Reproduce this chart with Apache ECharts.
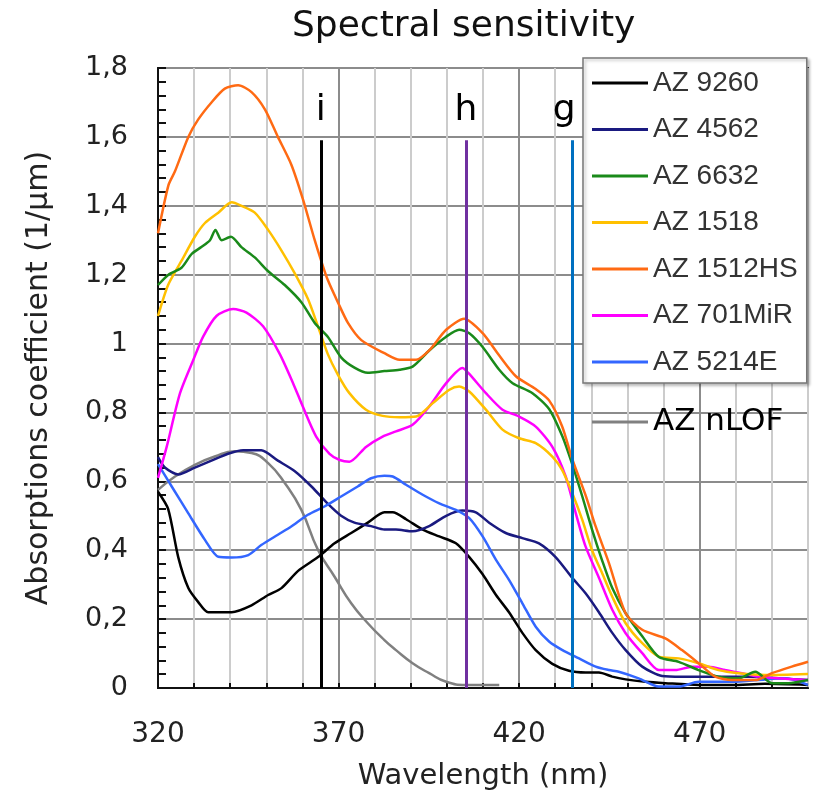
<!DOCTYPE html>
<html lang="en">

<head>
  <meta charset="UTF-8">
  <title>Spectral sensitivity</title>
  <style>
    html, body {
      margin: 0;
      padding: 0;
      background: #fff;
    }

    #main {
      width: 814px;
      height: 793px;
    }
  </style>
</head>

<body>
  <div id="main"></div>

  <script src="https://cdn.jsdelivr.net/npm/echarts@6/dist/echarts.min.js"></script>
  <script type="text/javascript">
    // wavelengths (nm) and absorption coefficients (1/um)
    var wl9260 = [320, 322.8, 325.6, 328.4, 331.1, 333.9, 340.4, 345.9, 350.5, 354.2, 358.8, 364.3, 368.9, 373.5, 378.1, 382.7, 385, 388.7, 393.3, 397.9, 402.5, 406.2, 409.9, 413.6, 417.2, 420.9, 424.6, 429.2, 433.8, 438.4, 442.1, 445.8, 449.5, 455, 460.5, 469.7, 478.9, 488.1, 500];
    var az9260 = [0.57, 0.52, 0.38, 0.29, 0.25, 0.22, 0.22, 0.24, 0.27, 0.29, 0.34, 0.38, 0.42, 0.45, 0.48, 0.51, 0.51, 0.49, 0.46, 0.44, 0.42, 0.38, 0.33, 0.27, 0.22, 0.16, 0.11, 0.07, 0.05, 0.045, 0.045, 0.033, 0.025, 0.018, 0.014, 0.009, 0.009, 0.012, 0.009];

    var wl4562 = [320, 321.9, 325.6, 330.2, 334.8, 339.4, 343.6, 348.6, 353.2, 357.8, 362.5, 367, 370.7, 374.4, 379, 382.7, 385.9, 390.5, 395.1, 399.8, 404.3, 408, 411.7, 416.3, 420.9, 425.5, 430.1, 434.7, 438.4, 442.1, 445.8, 449.5, 454.1, 459.6, 465.1, 474.3, 483.5, 492.7, 500];
    var az4562 = [0.67, 0.64, 0.62, 0.64, 0.66, 0.68, 0.69, 0.69, 0.66, 0.63, 0.585, 0.535, 0.5, 0.48, 0.47, 0.46, 0.46, 0.455, 0.47, 0.5, 0.515, 0.51, 0.48, 0.45, 0.435, 0.42, 0.38, 0.32, 0.275, 0.22, 0.16, 0.11, 0.062, 0.035, 0.033, 0.033, 0.033, 0.028, 0.023];

    var wl6632 = [320, 322.9, 326.5, 329.3, 332, 334.4, 335.9, 337.6, 340.2, 343.1, 346.8, 350.5, 355.1, 359.7, 363.4, 367, 370.7, 374.4, 378.1, 382.7, 386.9, 390.5, 395.1, 399.8, 403.4, 406.2, 409.9, 414.5, 418.2, 423.7, 428.3, 432, 434.7, 437.5, 440.2, 443, 445.8, 449.5, 454.1, 458.7, 464.2, 469.7, 475.2, 480.8, 485.4, 490, 494.6, 500];
    var az6632 = [1.17, 1.2, 1.22, 1.26, 1.28, 1.3, 1.33, 1.3, 1.31, 1.28, 1.25, 1.21, 1.17, 1.12, 1.06, 1.02, 0.96, 0.93, 0.915, 0.92, 0.924, 0.933, 0.98, 1.02, 1.04, 1.03, 0.99, 0.924, 0.885, 0.856, 0.81, 0.73, 0.65, 0.556, 0.46, 0.37, 0.29, 0.217, 0.15, 0.09, 0.076, 0.052, 0.033, 0.028, 0.047, 0.014, 0.014, 0.023];

    var wl1518 = [320, 322.8, 326.5, 330.2, 333, 336.7, 340.4, 343.1, 346.8, 350.5, 354.2, 357.8, 361.5, 364.3, 367, 369.8, 373, 377.6, 382.2, 386.9, 391.5, 396.1, 400.7, 403.4, 406.2, 410.8, 415.4, 420, 424.6, 429.2, 431.9, 434.7, 437.5, 440.2, 443, 445.8, 449.5, 454.1, 458.7, 464.2, 469.7, 475.2, 480.8, 488.1, 500];
    var az1518 = [1.08, 1.17, 1.24, 1.31, 1.35, 1.38, 1.41, 1.4, 1.38, 1.33, 1.27, 1.205, 1.13, 1.05, 0.97, 0.91, 0.856, 0.808, 0.79, 0.786, 0.788, 0.827, 0.866, 0.875, 0.861, 0.808, 0.75, 0.725, 0.711, 0.672, 0.633, 0.566, 0.488, 0.4, 0.333, 0.265, 0.188, 0.13, 0.091, 0.086, 0.072, 0.052, 0.043, 0.038, 0.041];

    var wl1512 = [320, 322.9, 324.7, 328.4, 331.1, 334.8, 338.5, 342.2, 345.9, 349.6, 353.2, 356.9, 360.1, 363.4, 365.2, 367, 369.8, 372.6, 376.3, 382.7, 386.9, 391.5, 395.1, 399.8, 404.8, 409.9, 414.5, 419.1, 424.6, 428.3, 431.9, 434.7, 438.4, 441.2, 444.9, 449.5, 454.1, 460.5, 465.1, 469.7, 474.3, 478.9, 485.4, 490, 495.5, 500];
    var az1512 = [1.32, 1.46, 1.5, 1.6, 1.65, 1.7, 1.74, 1.75, 1.73, 1.68, 1.6, 1.52, 1.42, 1.3, 1.24, 1.185, 1.12, 1.06, 1.01, 0.972, 0.953, 0.953, 0.98, 1.04, 1.072, 1.03, 0.965, 0.905, 0.868, 0.835, 0.76, 0.665, 0.56, 0.469, 0.362, 0.217, 0.169, 0.144, 0.11, 0.072, 0.033, 0.023, 0.023, 0.043, 0.062, 0.076];

    var wl701 = [320, 322.4, 326.1, 329.8, 332.5, 336.2, 340.8, 344.5, 349.1, 353.7, 357.4, 360.1, 363.8, 367.5, 370.3, 373, 377.6, 382.2, 385.9, 390.5, 395.1, 399.8, 404.3, 406, 410.8, 415.4, 420, 424.6, 429.2, 432.9, 435.7, 438.4, 442.1, 445.8, 449.5, 454.1, 458.7, 463.3, 467.9, 472.5, 477.1, 481.7, 486.3, 491.8, 500];
    var az701 = [0.61, 0.7, 0.856, 0.953, 1.02, 1.08, 1.1, 1.09, 1.05, 0.97, 0.885, 0.817, 0.73, 0.68, 0.662, 0.657, 0.7, 0.73, 0.745, 0.764, 0.817, 0.885, 0.929, 0.914, 0.856, 0.808, 0.788, 0.759, 0.7, 0.614, 0.507, 0.411, 0.32, 0.227, 0.159, 0.101, 0.052, 0.052, 0.062, 0.062, 0.052, 0.043, 0.033, 0.028, 0.023];

    var wl5214 = [320, 323.8, 328.4, 333, 336.7, 340.4, 345, 348.6, 353.2, 356.9, 361.5, 366.1, 370.7, 375.3, 379, 382.7, 385, 388.7, 393.3, 397.9, 402.5, 406.2, 409.9, 413.6, 417.2, 420.9, 424.6, 428.3, 432, 436.6, 441.2, 444.9, 447.6, 453.1, 458.7, 464.2, 469.7, 478.9, 488.1, 493.7, 500];
    var az5214 = [0.65, 0.585, 0.507, 0.43, 0.381, 0.379, 0.386, 0.415, 0.445, 0.469, 0.503, 0.527, 0.556, 0.585, 0.609, 0.616, 0.614, 0.59, 0.561, 0.536, 0.517, 0.493, 0.44, 0.372, 0.314, 0.246, 0.178, 0.135, 0.11, 0.086, 0.062, 0.052, 0.047, 0.028, 0.004, 0.004, 0.018, 0.018, 0.025, 0.028, 0.009];

    var wlNlof = [320, 324.7, 330.2, 335.7, 341.3, 345.9, 350.5, 355.1, 359.7, 364.3, 368.9, 373.5, 378.1, 382.7, 385.9, 390.5, 395.1, 399.8, 405.3, 414.5];
    var azNlof = [0.575, 0.614, 0.648, 0.672, 0.687, 0.682, 0.653, 0.595, 0.517, 0.401, 0.323, 0.246, 0.188, 0.139, 0.11, 0.072, 0.043, 0.018, 0.009, 0.009];

    // mercury lines i, h, g
    var hgNames = ['i', 'h', 'g'];
    var hgWave = [365.1, 405.3, 434.7];
    var hgTop = [1.59, 1.59, 1.59];
    var hgColors = ['#000000', '#7030a0', '#0070c0'];
    var hgShift = [0, 0, -8];

    var xLabels = [320, 370, 420, 470];

    function pairs(xs, ys) {
      return xs.map(function(x, i) {
        return [x, ys[i]];
      });
    }

    function curve(name, xs, ys, color, smooth) {
      return {
        name: name,
        type: 'line',
        data: pairs(xs, ys),
        symbol: 'none',
        smooth: smooth,
        lineStyle: { color: color, width: 2.5 },
        itemStyle: { color: color },
        z: 3
      };
    }

    var myChart = echarts.init(document.getElementById('main'));

    var hgLines = hgNames.map(function(n, i) {
      return [{
        coord: [hgWave[i], 0],
        lineStyle: { color: hgColors[i], width: 3, type: 'solid' },
        label: {
          show: true,
          position: 'end',
          formatter: n,
          color: '#000',
          fontSize: 36,
          fontFamily: 'DejaVu Sans',
          distance: 12,
          offset: [hgShift[i], 0]
        }
      }, {
        coord: [hgWave[i], hgTop[i]]
      }];
    });

    var option = {
      animation: false,
      backgroundColor: '#fff',
      title: {
        text: 'Spectral sensitivity',
        left: 287,
        top: 4,
        textStyle: {
          fontFamily: 'DejaVu Sans',
          fontSize: 36,
          fontWeight: 'normal',
          color: '#111'
        }
      },
      grid: {
        left: 158,
        right: 6,
        top: 68,
        bottom: 105,
        outerBoundsMode: 'none',
        show: true,
        borderColor: '#333',
        borderWidth: 2
      },
      legend: [{
        data: ['AZ 9260', 'AZ 4562', 'AZ 6632', 'AZ 1518', 'AZ 1512HS', 'AZ 701MiR', 'AZ 5214E'],
        orient: 'vertical',
        left: 583,
        top: 58,
        padding: [10, 9, 6, 9],
        itemGap: 16.5,
        icon: 'rect',
        itemWidth: 56,
        itemHeight: 3,
        backgroundColor: '#fff',
        borderColor: '#777',
        borderWidth: 1.5,
        shadowColor: 'rgba(0,0,0,0.25)',
        shadowBlur: 3,
        shadowOffsetX: 2,
        shadowOffsetY: 2,
        textStyle: {
          fontFamily: 'Liberation Sans',
          fontSize: 28,
          lineHeight: 30,
          color: '#333'
        }
      }, {
        data: ['AZ nLOF'],
        left: 592,
        top: 406,
        padding: 0,
        icon: 'rect',
        itemWidth: 56,
        itemHeight: 3,
        textStyle: {
          fontFamily: 'DejaVu Sans',
          fontSize: 31,
          lineHeight: 32,
          color: '#000'
        }
      }],
      xAxis: {
        type: 'value',
        min: 320,
        max: 500,
        interval: 10,
        name: 'Wavelength (nm)',
        nameLocation: 'middle',
        nameGap: 74,
        nameTextStyle: {
          fontFamily: 'DejaVu Sans',
          fontSize: 29,
          color: '#222'
        },
        axisLine: { lineStyle: { color: '#111', width: 2 } },
        axisTick: { inside: true, length: 5, lineStyle: { color: '#111', width: 2 } },
        axisLabel: {
          margin: 33,
          fontFamily: 'DejaVu Sans',
          fontSize: 28,
          color: '#222',
          interval: 0,
          showMaxLabel: false,
          formatter: function(v) {
            return xLabels.indexOf(v) >= 0 ? String(v) : '';
          }
        },
        splitLine: {
          show: true,
          lineStyle: {
            width: 2,
            color: ['#8c8c8c', '#cccccc', '#cccccc', '#cccccc', '#cccccc']
          }
        }
      },
      yAxis: {
        type: 'value',
        min: 0,
        max: 1.8,
        interval: 0.2,
        name: 'Absorptions coefficient (1/µm)',
        nameLocation: 'middle',
        nameGap: 104,
        nameTextStyle: {
          fontFamily: 'DejaVu Sans',
          fontSize: 30,
          color: '#222'
        },
        axisLine: { show: true, lineStyle: { color: '#111', width: 2 } },
        axisTick: { show: true, inside: true, length: 8, lineStyle: { color: '#111', width: 2 } },
        minorTick: { show: true, splitNumber: 5, length: 8, lineStyle: { color: '#111', width: 2 } },
        axisLabel: {
          margin: 30,
          fontFamily: 'DejaVu Sans',
          fontSize: 27,
          color: '#222',
          formatter: function(v) {
            var s = Math.abs(v - Math.round(v)) < 1e-9 ? String(Math.round(v)) : v.toFixed(1);
            return s.replace('.', ',');
          }
        },
        splitLine: { show: true, lineStyle: { color: '#8c8c8c', width: 2 } }
      },
      series: [
        curve('AZ nLOF', wlNlof, azNlof, '#808080', 0.5),
        curve('AZ 9260', wl9260, az9260, '#000000', 0.25),
        curve('AZ 4562', wl4562, az4562, '#1a1a80', 0.25),
        curve('AZ 5214E', wl5214, az5214, '#3366ff', 0.25),
        curve('AZ 701MiR', wl701, az701, '#ff00ff', 0.25),
        curve('AZ 1518', wl1518, az1518, '#ffc000', 0.25),
        curve('AZ 6632', wl6632, az6632, '#1a8a1a', 0.25),
        curve('AZ 1512HS', wl1512, az1512, '#ff6a13', 0.25),
        {
          name: 'Hg lines',
          type: 'line',
          data: [],
          z: 4,
          markLine: {
            silent: true,
            symbol: ['none', 'none'],
            animation: false,
            data: hgLines
          }
        }
      ]
    };

    myChart.setOption(option);
  </script>
</body>

</html>
